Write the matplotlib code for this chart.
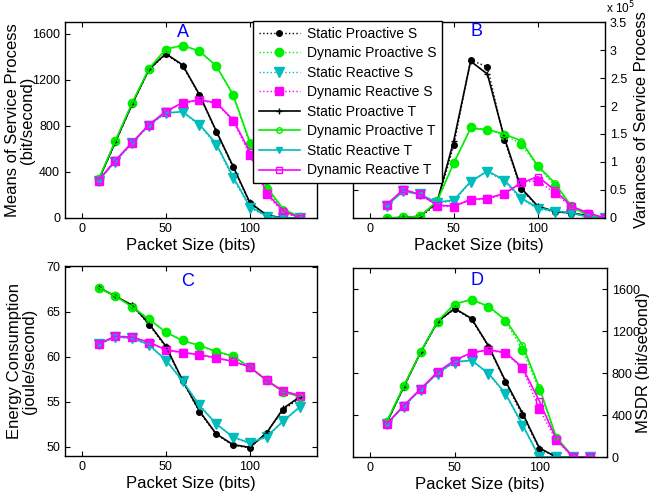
import matplotlib
matplotlib.use("Agg")
import matplotlib.pyplot as plt
import numpy as np

plt.rcParams['font.family'] = ['Liberation Sans', 'DejaVu Sans']

# ---------------- data ----------------
x = [10, 20, 30, 40, 50, 60, 70, 80, 90, 100, 110, 120, 130]
xB = [10, 20, 30, 40, 50, 60, 70, 80, 90, 100, 110, 120, 130, 140]

labels = ["Static Proactive S", "Dynamic Proactive S", "Static Reactive S", "Dynamic Reactive S",
          "Static Proactive T", "Dynamic Proactive T", "Static Reactive T", "Dynamic Reactive T"]

# Panel A: means of service process (bit/second)
A_sp_T = [330, 660, 990, 1290, 1425, 1328, 1070, 755, 450, 135, 25, 0, 0]
A_dp_T = [335, 670, 1000, 1295, 1465, 1498, 1448, 1320, 1072, 660, 270, 75, 10]
A_sr_T = [325, 495, 652, 808, 912, 922, 812, 645, 358, 100, 18, 0, 0]
A_dr_T = [328, 500, 655, 810, 925, 1000, 1025, 1000, 852, 575, 215, 62, 0]
A_sp_S = [325, 655, 985, 1285, 1420, 1320, 1065, 748, 440, 128, 22, 0, 0]
A_dp_S = [335, 665, 995, 1290, 1460, 1495, 1445, 1318, 1065, 640, 255, 60, 8]
A_sr_S = [322, 490, 648, 802, 908, 918, 805, 635, 345, 90, 12, 0, 0]
A_dr_S = [325, 495, 650, 805, 920, 995, 1020, 995, 845, 550, 205, 45, 0]

# Panel B: variances of service process (x 10^5)
B_sp_T = [0.00, 0.01, 0.03, 0.28, 1.38, 2.80, 2.57, 1.44, 0.54, 0.21, 0.12, 0.09, 0.04, 0.00]
B_dp_T = [0.00, 0.01, 0.03, 0.30, 0.98, 1.60, 1.58, 1.50, 1.38, 0.93, 0.63, 0.21, 0.04, 0.00]
B_sr_T = [0.22, 0.48, 0.42, 0.28, 0.32, 0.65, 0.84, 0.68, 0.36, 0.18, 0.13, 0.09, 0.02, 0.00]
B_dr_T = [0.24, 0.51, 0.42, 0.23, 0.21, 0.33, 0.35, 0.44, 0.62, 0.74, 0.50, 0.21, 0.09, 0.00]
B_sp_S = [0.00, 0.01, 0.02, 0.25, 1.30, 2.82, 2.70, 1.40, 0.52, 0.20, 0.11, 0.08, 0.04, 0.00]
B_dp_S = [0.00, 0.01, 0.03, 0.30, 0.98, 1.62, 1.58, 1.49, 1.32, 0.92, 0.58, 0.21, 0.04, 0.00]
B_sr_S = [0.22, 0.48, 0.42, 0.27, 0.30, 0.64, 0.83, 0.66, 0.34, 0.16, 0.11, 0.08, 0.02, 0.00]
B_dr_S = [0.23, 0.50, 0.42, 0.22, 0.20, 0.32, 0.34, 0.42, 0.64, 0.66, 0.45, 0.20, 0.08, 0.00]

# Panel C: energy consumption (joule/second)
C_sp_T = [67.72, 66.75, 65.74, 63.70, 61.20, 57.40, 54.00, 51.45, 50.26, 49.96, 51.57, 54.30, 55.60]
C_dp_T = [67.72, 66.75, 65.56, 64.18, 62.76, 61.80, 61.30, 60.60, 60.10, 58.85, 57.40, 56.10, 55.60]
C_sr_T = [61.40, 62.25, 62.10, 61.35, 59.66, 57.35, 54.60, 52.57, 51.10, 50.45, 51.15, 52.90, 54.50]
C_dr_T = [61.45, 62.30, 62.20, 61.64, 60.80, 60.50, 60.26, 59.90, 59.50, 58.90, 57.40, 56.20, 55.70]
C_sp_S = [67.70, 66.72, 65.70, 63.60, 61.10, 57.30, 53.90, 51.40, 50.20, 49.90, 51.60, 54.10, 55.50]
C_dp_S = [67.70, 66.72, 65.60, 64.20, 62.80, 61.85, 61.25, 60.55, 60.05, 58.85, 57.40, 56.10, 55.60]
C_sr_S = [61.40, 62.20, 62.05, 61.30, 59.60, 57.30, 54.70, 52.60, 51.05, 50.40, 51.10, 52.85, 54.45]
C_dr_S = [61.45, 62.30, 62.20, 61.60, 60.75, 60.45, 60.20, 59.85, 59.50, 58.90, 57.40, 56.20, 55.70]

# Panel D: MSDR (bit/second)
D_sp_T = [330, 670, 1000, 1290, 1415, 1319, 1058, 724, 420, 87, 0, 0, 0]
D_dp_T = [338, 676, 1001, 1294, 1457, 1501, 1434, 1307, 1068, 663, 191, 0, 0]
D_sr_T = [316, 485, 645, 800, 905, 921, 797, 606, 312, 0, 0, 0, 0]
D_dr_T = [316, 491, 650, 810, 921, 994, 1020, 995, 855, 535, 169, 0, 0]
D_sp_S = [325, 665, 995, 1285, 1410, 1312, 1050, 715, 399, 80, 0, 0, 0]
D_dp_S = [335, 672, 998, 1290, 1452, 1498, 1430, 1300, 1020, 640, 180, 0, 0]
D_sr_S = [312, 480, 640, 795, 900, 918, 790, 598, 300, 0, 0, 0, 0]
D_dr_S = [312, 488, 648, 805, 918, 990, 1015, 990, 845, 455, 160, 0, 0]

# ---------------- styles ----------------
BLACK = 'k'
GREEN = '#00ee00'
CYAN = '#00bcbc'
MAGENTA = '#ff00ff'
colors = [BLACK, GREEN, CYAN, MAGENTA]
s_markers = [dict(marker='.', ms=8, mfc=BLACK, mec=BLACK),
             dict(marker='o', ms=6, mfc=GREEN, mec=GREEN),
             dict(marker='v', ms=6.5, mfc=CYAN, mec=CYAN),
             dict(marker='s', ms=6, mfc=MAGENTA, mec=MAGENTA)]
t_markers = [dict(marker='+', ms=4, mew=1.0),
             dict(marker='o', ms=4, mfc='none', mew=1.0),
             dict(marker='v', ms=4, mfc=CYAN),
             dict(marker='s', ms=4.5, mfc='none', mew=1.0)]

fig = plt.figure(figsize=(6.49, 5.04), dpi=100)
W, H = 649.0, 504.0

def make_ax(l, r, t, b):
    return fig.add_axes([l / W, 1 - b / H, (r - l) / W, (b - t) / H])

axA = make_ax(65, 317, 22, 218)
axB = make_ax(353, 605, 22, 218)
axC = make_ax(65, 317, 266, 456)
axD = make_ax(353, 607, 268, 457)

def draw(ax, xs, S, T):
    hs = []
    for i in range(4):
        h, = ax.plot(xs, S[i], linestyle=':', color=colors[i], lw=1.0, **s_markers[i])
        hs.append(h)
    for i in range(4):
        h, = ax.plot(xs, T[i], linestyle='-', color=colors[i], lw=1.2, **t_markers[i])
        hs.append(h)
    return hs

handles = draw(axA, x, [A_sp_S, A_dp_S, A_sr_S, A_dr_S], [A_sp_T, A_dp_T, A_sr_T, A_dr_T])
draw(axB, xB, [B_sp_S, B_dp_S, B_sr_S, B_dr_S], [B_sp_T, B_dp_T, B_sr_T, B_dr_T])
draw(axC, x, [C_sp_S, C_dp_S, C_sr_S, C_dr_S], [C_sp_T, C_dp_T, C_sr_T, C_dr_T])
draw(axD, x, [D_sp_S, D_dp_S, D_sr_S, D_dr_S], [D_sp_T, D_dp_T, D_sr_T, D_dr_T])

for ax in (axA, axB, axC, axD):
    ax.set_xlim(-10, 140)
    ax.set_xticks([0, 50, 100])
    ax.tick_params(direction='in', top=True, right=True, left=True, bottom=True,
                   length=3.5, width=0.8, labelsize=9)
    for sp in ax.spines.values():
        sp.set_linewidth(1.0)
    ax.set_xlabel("Packet Size (bits)", fontsize=12, labelpad=2.5)

axA.set_ylim(0, 1700)
axA.set_yticks([0, 400, 800, 1200, 1600])
axB.set_ylim(0, 3.5)
axB.set_yticks([0, 0.5, 1, 1.5, 2, 2.5, 3, 3.5])
axB.set_yticklabels(['0', '0.5', '1', '1.5', '2', '2.5', '3', '3.5'])
axC.set_ylim(49, 70.1)
axC.set_yticks([50, 55, 60, 65, 70])
axD.set_ylim(0, 1800)
axD.set_yticks([0, 400, 800, 1200, 1600])

for ax in (axB, axD):
    ax.tick_params(labelleft=False, labelright=True)

axA.set_ylabel("Means of Service Process\n(bit/second)", fontsize=12, va='center', linespacing=1.0)
axA.yaxis.set_label_coords(-0.18, 0.5)
axC.set_ylabel("Energy Consumption\n(joule/second)", fontsize=12, va='center', linespacing=1.0)
axC.yaxis.set_label_coords(-0.17, 0.5)

axB.yaxis.set_label_position('right')
axB.set_ylabel("Variances of Service Process", fontsize=12, va='center', rotation=90)
axB.yaxis.set_label_coords(1.145, 0.5)
axD.yaxis.set_label_position('right')
axD.set_ylabel("MSDR (bit/second)", fontsize=12, va='center', rotation=90)
axD.yaxis.set_label_coords(1.145, 0.5)

fig.text(606 / W, 1 - 8 / H, r"x 10$^5$", fontsize=8.5, ha='left', va='center')

for ax, lab, px, py in ((axA, 'A', 0.47, 0.945), (axB, 'B', 0.49, 0.95),
                        (axC, 'C', 0.486, 0.92), (axD, 'D', 0.49, 0.935)):
    ax.text(px, py, lab, transform=ax.transAxes, color='#0000ff', fontsize=13,
            ha='center', va='center')

leg = fig.legend(handles, labels, loc='upper left', bbox_to_anchor=(253 / W, 1 - 21 / H),
                 bbox_transform=fig.transFigure, fontsize=10, handlelength=3.0,
                 handletextpad=0.5, labelspacing=0.4, borderpad=0.4, borderaxespad=0,
                 fancybox=False, framealpha=1, edgecolor='k', numpoints=1)
leg.get_frame().set_linewidth(1.0)

fig.savefig("out.png", dpi=100)
